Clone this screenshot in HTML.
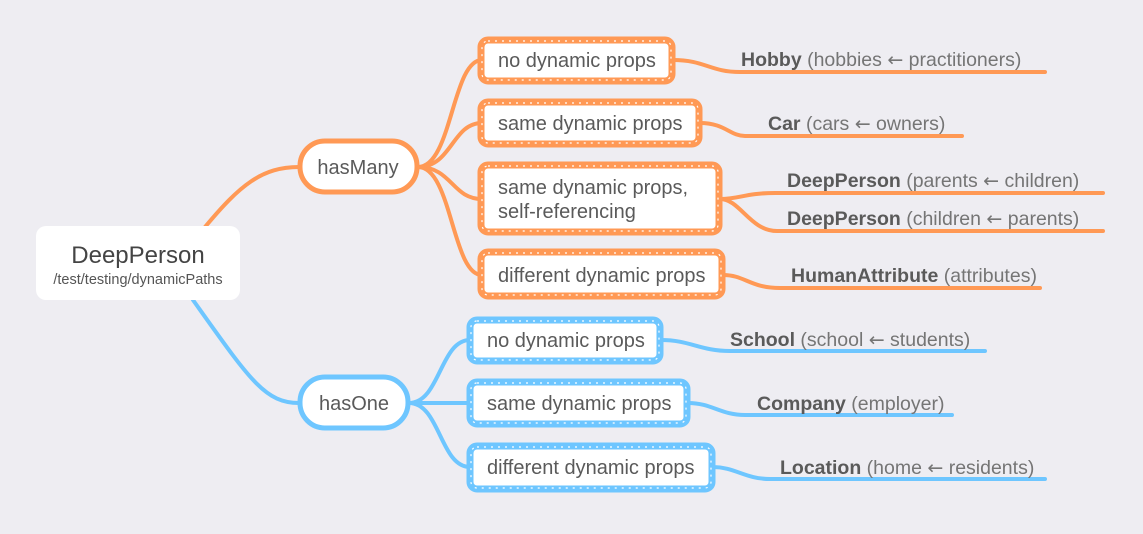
<!DOCTYPE html>
<html><head><meta charset="utf-8"><style>
html,body{margin:0;padding:0;background:#eeedf2;}
svg{display:block;font-family:"Liberation Sans",sans-serif;}
.t{font-size:20px;fill:#5a5a5a;}
.l{font-size:19.5px;fill:#757575;}
.l tspan.b{font-weight:bold;fill:#5a5a5a;}
.a{font-family:"DejaVu Sans",sans-serif;font-size:19px;}
</style></head><body>
<svg width="1143" height="534" viewBox="0 0 1143 534">
<rect width="1143" height="534" fill="#eeedf2"/>
<g fill="none" stroke-width="4" stroke-linecap="round">
<g stroke="#ff9955">
<path d="M205,227 C240,185 262,167 299,167"/>
<path d="M418,167 C452,167 452,60 482,60"/>
<path d="M418,167 C452,167 452,123 482,123"/>
<path d="M418,167 C452,167 452,199 482,199"/>
<path d="M418,167 C452,167 452,275 482,275"/>
<path d="M673,60 C705,60 710,72 740,72 L1045,72"/>
<path d="M700,123 C725,123 730,136 745,136 L962,136"/>
<path d="M720,199 C740,199 745,193 775,193 L1103,193"/>
<path d="M720,199 C740,199 750,231 777,231 L1103,231"/>
<path d="M723,275 C745,275 750,288 780,288 L1040,288"/>
</g>
<g stroke="#6ec6ff">
<path d="M193,300 C250,380 265,403 299,403"/>
<path d="M409,403 C440,403 440,340 470,340"/>
<path d="M409,403 L470,403"/>
<path d="M409,403 C440,403 440,467 470,467"/>
<path d="M661,340 C690,340 700,351 730,351 L985,351"/>
<path d="M688,403 C712,403 720,415 745,415 L952,415"/>
<path d="M713,467 C735,467 745,479 770,479 L1045,479"/>
</g>
</g>
<rect x="36" y="226" width="204" height="74" rx="10" fill="#fff"/>
<text x="138" y="263" text-anchor="middle" font-size="24" fill="#444">DeepPerson</text>
<text x="138" y="284" text-anchor="middle" font-size="14.5" fill="#555">/test/testing/dynamicPaths</text>
<rect x="300" y="141" width="117" height="51" rx="25" fill="#fff" stroke="#ff9955" stroke-width="5"/>
<text x="358" y="174" text-anchor="middle" class="t">hasMany</text>
<rect x="300" y="377" width="108" height="51" rx="25" fill="#fff" stroke="#6ec6ff" stroke-width="5"/>
<text x="354" y="410" text-anchor="middle" class="t">hasOne</text>
<g fill="#fff" stroke-width="7" stroke-linejoin="round">
<g stroke="#ff9955">
<rect x="481" y="40" width="191" height="41" rx="7"/>
<rect x="481" y="102" width="218" height="42" rx="7"/>
<rect x="481" y="165" width="238" height="67" rx="7"/>
<rect x="481" y="252" width="241" height="44" rx="7"/>
</g>
<g stroke="#6ec6ff">
<rect x="470" y="320" width="190" height="41" rx="7"/>
<rect x="470" y="382" width="217" height="42" rx="7"/>
<rect x="470" y="446" width="242" height="43" rx="7"/>
</g>
</g>
<g fill="none" stroke="#fff" stroke-width="1.2" stroke-dasharray="2 5">
<rect x="482" y="41" width="189" height="39" rx="6"/>
<rect x="482" y="103" width="216" height="40" rx="6"/>
<rect x="482" y="166" width="236" height="65" rx="6"/>
<rect x="482" y="253" width="239" height="42" rx="6"/>
<rect x="471" y="321" width="188" height="39" rx="6"/>
<rect x="471" y="383" width="215" height="40" rx="6"/>
<rect x="471" y="447" width="240" height="41" rx="6"/>
</g>
<text x="498" y="67" class="t">no dynamic props</text>
<text x="498" y="130" class="t">same dynamic props</text>
<text x="498" y="194" class="t">same dynamic props,</text>
<text x="498" y="218" class="t">self-referencing</text>
<text x="498" y="282" class="t">different dynamic props</text>
<text x="487" y="347" class="t">no dynamic props</text>
<text x="487" y="410" class="t">same dynamic props</text>
<text x="487" y="474" class="t">different dynamic props</text>
<text x="741" y="66" class="l"><tspan class="b">Hobby</tspan> (hobbies <tspan class="a">←</tspan> practitioners)</text>
<text x="768" y="130" class="l"><tspan class="b">Car</tspan> (cars <tspan class="a">←</tspan> owners)</text>
<text x="787" y="187" class="l"><tspan class="b">DeepPerson</tspan> (parents <tspan class="a">←</tspan> children)</text>
<text x="787" y="225" class="l"><tspan class="b">DeepPerson</tspan> (children <tspan class="a">←</tspan> parents)</text>
<text x="791" y="282" class="l"><tspan class="b">HumanAttribute</tspan> (attributes)</text>
<text x="730" y="346" class="l"><tspan class="b">School</tspan> (school <tspan class="a">←</tspan> students)</text>
<text x="757" y="410" class="l"><tspan class="b">Company</tspan> (employer)</text>
<text x="780" y="474" class="l"><tspan class="b">Location</tspan> (home <tspan class="a">←</tspan> residents)</text>
</svg>
</body></html>
